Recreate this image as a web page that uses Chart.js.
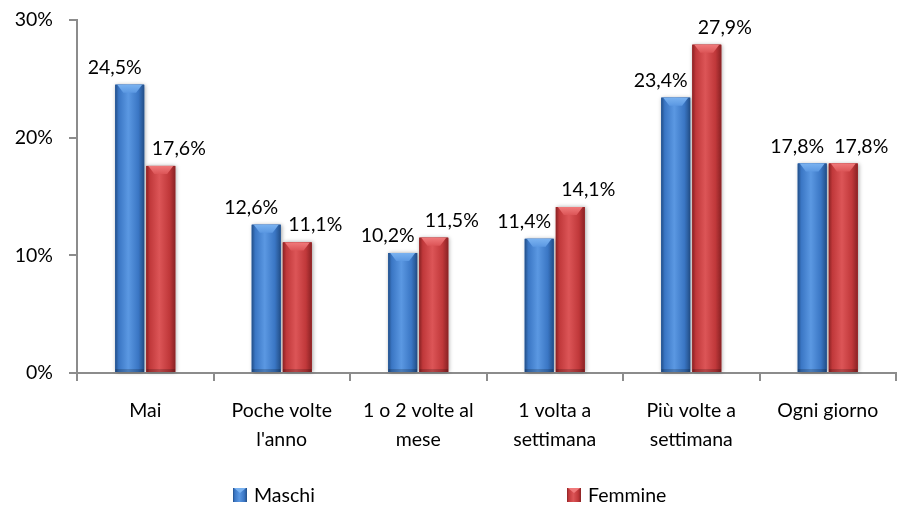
<!DOCTYPE html>
<html>
<head>
<meta charset="utf-8">
<script src="https://cdn.jsdelivr.net/npm/chart.js@4"></script>
<style>
  html, body { margin: 0; padding: 0; background: #fff; }
  #wrap { width: 897px; height: 510px; position: relative; }
</style>
</head>
<body>
<div id="wrap"><canvas id="chart"></canvas></div>
<script>
/* Frequenza per genere — Maschi vs Femmine */

const categorie = [
  "Mai",
  ["Poche volte", "l'anno"],
  ["1 o 2 volte al", "mese"],
  ["1 volta a", "settimana"],
  ["Più volte a", "settimana"],
  "Ogni giorno",
];
const maschi = [24.5, 12.6, 10.2, 11.4, 23.4, 17.8];
const femmine = [17.6, 11.1, 11.5, 14.1, 27.9, 17.8];
const yTicks = [0, 10, 20, 30];

const PCT = (n) => n.toFixed(1).replace(".", ",") + "%";
const FONT = "Lato, 'Open Sans', sans-serif";
const FS = 19.5;

// tonalità: scuro, base, chiaro
const TONI = [
  { dark: "#234f88", base: "#3a76c4", light: "#5b98e2", cap: "#7ab2f0" },
  { dark: "#8a2224", base: "#c0383a", light: "#dc5557", cap: "#f07a7b" },
];

Chart.defaults.font.family = FONT;
Chart.defaults.font.size = FS;
Chart.defaults.color = "#000";

function barGradient(ctx, left, right, t) {
  const g = ctx.createLinearGradient(left, 0, right, 0);
  g.addColorStop(0, t.dark);
  g.addColorStop(0.12, t.base);
  g.addColorStop(0.45, t.light);
  g.addColorStop(0.8, t.base);
  g.addColorStop(1, t.dark);
  return g;
}

const barre3d = {
  id: "barre3d",
  afterDatasetsDraw(chart) {
    const ctx = chart.ctx;
    chart.data.datasets.forEach((ds, i) => {
      const t = TONI[i];
      chart.getDatasetMeta(i).data.forEach((bar) => {
        const { x, y, base, width } = bar.getProps(["x", "y", "base", "width"], true);
        const left = x - width / 2, right = x + width / 2;
        const h = base - y;
        const bv = Math.min(8, h / 2);
        ctx.save();
        ctx.shadowColor = "rgba(0,0,0,0.35)";
        ctx.shadowBlur = 4;
        ctx.shadowOffsetX = 1;
        ctx.fillStyle = t.base;
        ctx.fillRect(left, y, width, h);
        ctx.restore();
        ctx.save();
        ctx.fillStyle = barGradient(ctx, left, right, t);
        ctx.fillRect(left, y, width, h);
        // cappello superiore
        const cg = ctx.createLinearGradient(0, y, 0, y + bv);
        cg.addColorStop(0, t.cap);
        cg.addColorStop(1, t.light);
        ctx.fillStyle = cg;
        ctx.beginPath();
        ctx.moveTo(left + 2, y);
        ctx.lineTo(right - 2, y);
        ctx.lineTo(x + width * 0.22, y + bv);
        ctx.lineTo(x - width * 0.22, y + bv);
        ctx.closePath();
        ctx.fill();
        ctx.fillStyle = "rgba(0,0,0,0.18)";
        ctx.fillRect(left, base - 3, width, 3);
        ctx.restore();
      });
    });
  },
};

const etichette = {
  id: "etichette",
  afterDatasetsDraw(chart) {
    const ctx = chart.ctx;
    const shift = [-15, 18];
    ctx.save();
    ctx.font = FS + "px " + FONT;
    ctx.fillStyle = "#000";
    ctx.textAlign = "center";
    ctx.textBaseline = "alphabetic";
    chart.data.datasets.forEach((ds, i) => {
      chart.getDatasetMeta(i).data.forEach((bar, j) => {
        ctx.fillText(PCT(ds.data[j]), bar.x + shift[i], bar.y - 11);
      });
    });
    ctx.restore();
  },
};

const legenda = {
  id: "legenda",
  afterDraw(chart) {
    const ctx = chart.ctx;
    const pos = [0.26, 0.632];
    const cy = 495;
    ctx.save();
    ctx.font = FS + "px " + FONT;
    ctx.textBaseline = "middle";
    chart.data.datasets.forEach((ds, i) => {
      const t = TONI[i];
      const bx = Math.round(chart.width * pos[i]);
      ctx.fillStyle = barGradient(ctx, bx, bx + 14, t);
      ctx.fillRect(bx, cy - 7, 14, 14);
      ctx.fillStyle = t.cap;
      ctx.beginPath();
      ctx.moveTo(bx + 1, cy - 7);
      ctx.lineTo(bx + 13, cy - 7);
      ctx.lineTo(bx + 7, cy - 2);
      ctx.closePath();
      ctx.fill();
      ctx.fillStyle = "#000";
      ctx.fillText(ds.label, bx + 21, cy + 1);
    });
    ctx.restore();
  },
};

new Chart(document.getElementById("chart"), {
  type: "bar",
  data: {
    labels: categorie,
    datasets: [
      { label: "Maschi", data: maschi, backgroundColor: TONI[0].base, borderWidth: 0 },
      { label: "Femmine", data: femmine, backgroundColor: TONI[1].base, borderWidth: 0 },
    ],
  },
  options: {
    responsive: true,
    maintainAspectRatio: false,
    animation: false,
    categoryPercentage: 0.455,
    barPercentage: 0.93,
    layout: { padding: { left: 0, right: 1, top: 20, bottom: 60 } },
    plugins: { legend: { display: false }, tooltip: { enabled: false } },
    scales: {
      x: {
        afterFit: (s) => { s.height = 77; },
        grid: { display: true, drawOnChartArea: false, offset: true, tickLength: 8, color: "#8c8c8c", lineWidth: 2 },
        border: { color: "#8c8c8c", width: 2 },
        ticks: { padding: 16, maxRotation: 0, autoSkip: false, font: { size: FS, lineHeight: 1.45 } },
      },
      y: {
        min: 0,
        max: 30,
        afterFit: (s) => { s.width = 77; s.paddingTop = 0; s.paddingBottom = 0; },
        afterBuildTicks: (s) => { s.ticks = yTicks.map((v) => ({ value: v })); },
        grid: { display: true, drawOnChartArea: false, tickLength: 8, color: "#8c8c8c", lineWidth: 2 },
        border: { color: "#8c8c8c", width: 2 },
        ticks: { padding: 16, callback: (v) => v + "%", font: { size: FS } },
      },
    },
  },
  plugins: [barre3d, etichette, legenda],
});
</script>
</body>
</html>
